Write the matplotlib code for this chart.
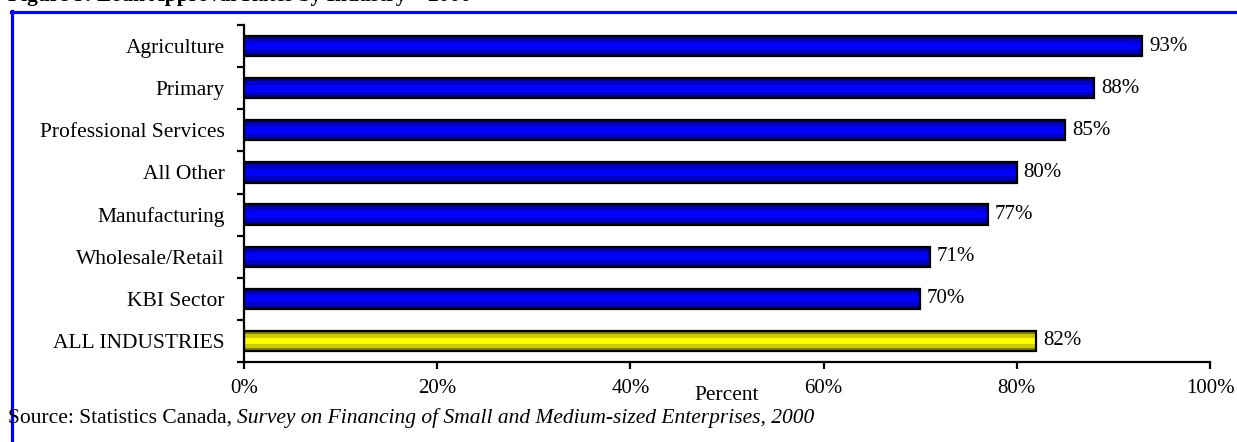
import matplotlib.pyplot as plt
from matplotlib.lines import Line2D

# Approval rates by industry, 2000 (percent)
industries = ['Agriculture', 'Primary', 'Professional Services', 'All Other',
              'Manufacturing', 'Wholesale/Retail', 'KBI Sector', 'ALL INDUSTRIES']
rates = [93, 88, 85, 80, 77, 71, 70, 82]
x_ticks = [0, 20, 40, 60, 80, 100]

plt.rcParams['font.family'] = ['Liberation Serif', 'DejaVu Serif']

fig = plt.figure(figsize=(12.37, 4.42), dpi=100)
W, H = 1237, 442
ax = fig.add_axes([244 / W, 1 - 362 / H, (1210 - 244) / W, (362 - 25) / H])

ypos = list(range(len(industries)))
blue_shades = ['#000080', '#0000C8', '#0000FF']
yellow_shades = ['#7F7F00', '#CCCC00', '#FFFF00']
heights = [0.48, 0.34, 0.16]

for y, val, name in zip(ypos, rates, industries):
    shades = yellow_shades if name == 'ALL INDUSTRIES' else blue_shades
    for c, h in zip(shades, heights):
        ax.barh(y, val, height=h, color=c, linewidth=0, zorder=2)
    ax.barh(y, val, height=0.48, fill=False, edgecolor='black', linewidth=1.6, zorder=3)
    ax.text(val + 0.7, y, f'{val}%', va='center', ha='left', fontsize=15)

ax.set_xlim(0, 100)
ax.set_ylim(len(industries) - 0.5, -0.5)
ax.set_xticks(x_ticks)
ax.set_xticklabels([f'{t}%' for t in x_ticks], fontsize=15)
ax.set_yticks(ypos)
ax.set_yticklabels(industries, fontsize=15.5)
ax.set_yticks([y - 0.5 for y in range(len(industries) + 1)], minor=True)
ax.tick_params(axis='y', which='major', length=0, pad=14)
ax.tick_params(axis='y', which='minor', length=5, width=1.6)
ax.tick_params(axis='x', length=5, width=1.6, pad=7)
for side in ['top', 'right']:
    ax.spines[side].set_visible(False)
for side in ['left', 'bottom']:
    ax.spines[side].set_linewidth(1.6)

fig.text(727 / W, 1 - 396 / H, 'Percent', ha='center', va='center', fontsize=15.5)

# source line with italic survey title
src = fig.text(8 / W, 1 - 418 / H, 'Source: Statistics Canada, ', ha='left', va='center', fontsize=15.5)
fig.canvas.draw()
bb = src.get_window_extent()
fig.text(bb.x1 / W, 1 - 418 / H,
         'Survey on Financing of Small and Medium-sized Enterprises, 2000',
         ha='left', va='center', fontsize=15.5, style='italic')

# figure title sitting above the top edge, only descenders show
fig.text(8 / W, 1 - 0.5 / H, 'Figure 3: Loan Approval Rates by Industry \u2013 2000',
         ha='left', va='baseline', fontsize=15.5, fontweight='bold')

# blue frame along top and left
fig.add_artist(Line2D([10.5 / W, 1], [1 - 12 / H, 1 - 12 / H], color='#0000FF', lw=2.3))
fig.add_artist(Line2D([11.5 / W, 11.5 / W], [1 - 11 / H, 0], color='#0000FF', lw=2.3))

fig.savefig('out.png', dpi=100)
